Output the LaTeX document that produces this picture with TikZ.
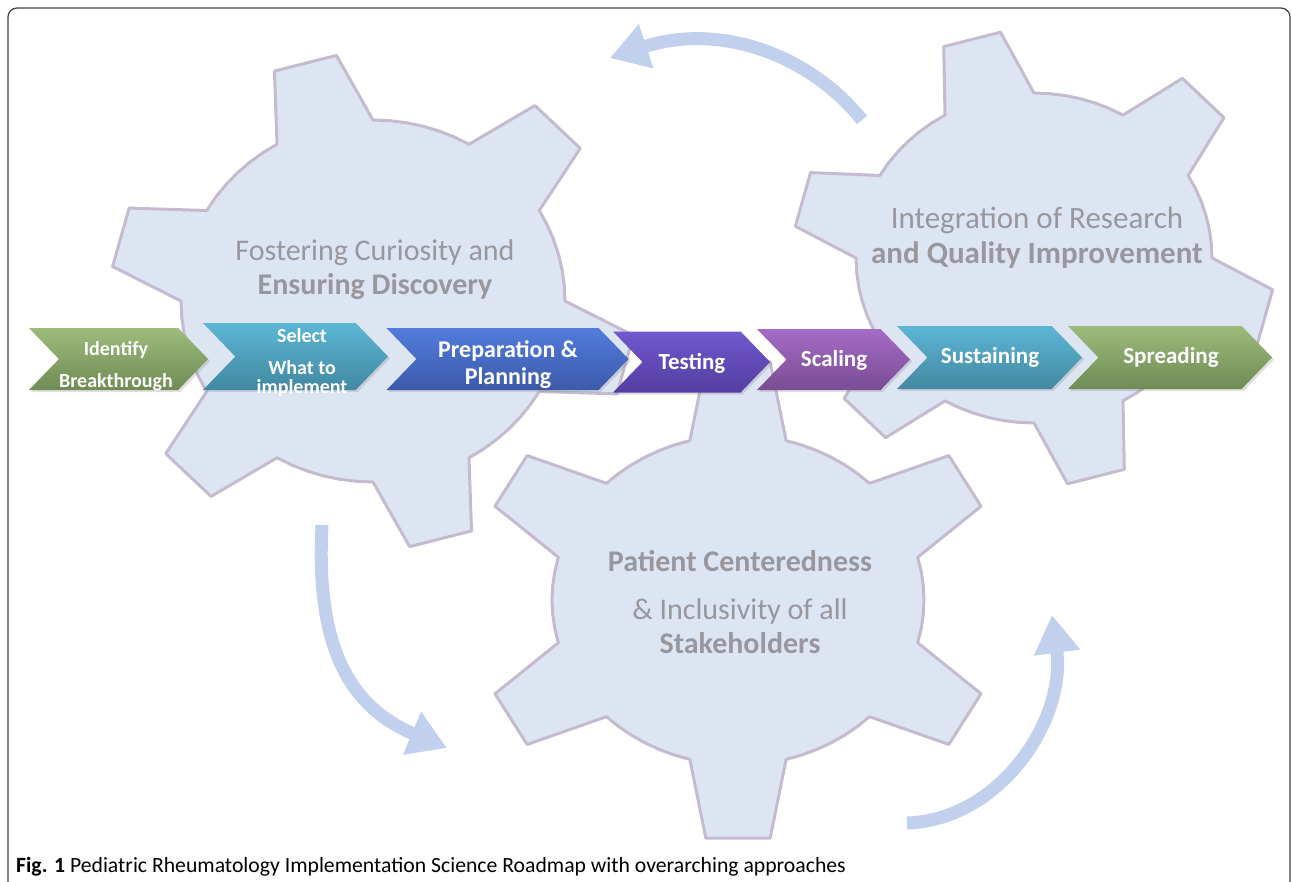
\documentclass[tikz,border=0pt]{standalone}
\usepackage{fontspec}
\setmainfont{Carlito}
\usepackage{tikz}
\usetikzlibrary{positioning}
\usetikzlibrary{shapes.symbols}
\usetikzlibrary{arrows.meta}
\usetikzlibrary{shadows}

\definecolor{gearfill}{RGB}{221,229,243}
\definecolor{gearline}{RGB}{196,188,206}
\definecolor{geargrey}{RGB}{153,151,158}
\definecolor{cyclecol}{RGB}{193,208,236}
\definecolor{greenT}{RGB}{157,187,123}
\definecolor{greenB}{RGB}{110,140,84}
\definecolor{cyanT}{RGB}{92,182,214}
\definecolor{cyanB}{RGB}{66,136,160}
\definecolor{blueT}{RGB}{82,124,220}
\definecolor{blueB}{RGB}{60,90,170}
\definecolor{purpleT}{RGB}{112,88,206}
\definecolor{purpleB}{RGB}{84,62,160}
\definecolor{violetT}{RGB}{164,108,198}
\definecolor{violetB}{RGB}{122,76,148}

\begin{document}
\begin{tikzpicture}[x=1pt, y=-1pt,
        gear/.style={draw=gearline, fill=gearfill, line width=3pt, line join=round},
        geartext/.style={text=geargrey, align=center, font=\fontsize{30}{34}\selectfont},
        chevron/.style={signal, signal from=west, signal to=east, signal pointer angle=92,
            inner sep=0pt, draw=none, drop shadow={opacity=0.25, shadow xshift=2pt, shadow yshift=-2pt}},
        steplabel/.style={text=white, align=center, font=\bfseries\fontsize{23}{27}\selectfont},
        cyclearrow/.style={draw=cyclecol, line width=13pt, -{Triangle[length=38pt, width=44pt]}}
    ]
    \useasboundingbox (0,0) rectangle (1292,881);
    \clip (0,0) rectangle (1292,881);

    % Frame
    \draw[line width=1.2pt, draw=black!75, rounded corners=9pt] (8,8) rectangle (1290,940);

    % Gear: Fostering Curiosity
    \begin{scope}[shift={(373,301)}]
        \draw[gear] (0:192 and 181)
            \foreach \a in {15,75,...,315}{
                -- (\a-15:192 and 181) -- (\a-7:263 and 248) -- (\a+7:263 and 248) -- (\a+15:192 and 181)
                \foreach \k in {20,25,...,40}{ -- (\a+\k:192 and 181) }
            } -- cycle;
    \end{scope}

    % Gear: Integration of Research
    \begin{scope}[shift={(1034,258)}]
        \draw[gear] (0:178 and 165)
            \foreach \a in {15,75,...,315}{
                -- (\a-15:178 and 165) -- (\a-7:241 and 228) -- (\a+7:241 and 228) -- (\a+15:178 and 165)
                \foreach \k in {20,25,...,40}{ -- (\a+\k:178 and 165) }
            } -- cycle;
    \end{scope}

    % Gear: Patient Centeredness
    \begin{scope}[shift={(738,600)}]
        \draw[gear] (15:186 and 165)
            \foreach \a in {30,90,...,330}{
                -- (\a-15:186 and 165) -- (\a-7:264 and 240) -- (\a+7:264 and 240) -- (\a+15:186 and 165)
                \foreach \k in {20,25,...,40}{ -- (\a+\k:186 and 165) }
            } -- cycle;
    \end{scope}

    % Gear labels
    \node[geartext] at (375,270) (fostering) {Fostering Curiosity and\\\textbf{Ensuring Discovery}};
    \node[geartext, font=\fontsize{31}{35}\selectfont] at (1037,238) (integration) {Integration of Research\\\textbf{and Quality Improvement}};
    \node[geartext] at (740,602) (patient) {\textbf{Patient Centeredness}\\[14pt]\& Inclusivity of all\\\textbf{Stakeholders}};

    % Cycle arrows
    \coordinate (cycleAstart) at (862,120);
    \coordinate (cycleAend) at (610,58);
    \coordinate (cycleBstart) at (322,525);
    \coordinate (cycleBend) at (447,748);
    \coordinate (cycleCstart) at (907,823);
    \coordinate (cycleCend) at (1052,615);
    \draw[cyclearrow] (cycleAstart) .. controls (810,55) and (720,22) .. (cycleAend);
    \draw[cyclearrow] (cycleBstart) .. controls (316,640) and (345,705) .. (cycleBend);
    \draw[cyclearrow] (cycleCstart) .. controls (1000,820) and (1066,720) .. (cycleCend);

    % Roadmap steps
    \node[chevron, minimum width=179pt, minimum height=62pt, top color=greenT, bottom color=greenB] at (118.5,359) (identify) {};
    \node[chevron, minimum width=185pt, minimum height=67pt, top color=cyanT, bottom color=cyanB] at (295.5,356.5) (select) {};
    \node[chevron, minimum width=242pt, minimum height=62pt, top color=blueT, bottom color=blueB] at (507.5,359) (preparation) {};
    \node[chevron, minimum width=157pt, minimum height=61pt, top color=purpleT, bottom color=purpleB] at (691.5,362) (testing) {};
    \node[chevron, minimum width=153pt, minimum height=61pt, top color=violetT, bottom color=violetB] at (833.5,359.5) (scaling) {};
    \node[chevron, minimum width=185pt, minimum height=63pt, top color=cyanT, bottom color=cyanB] at (989.5,357.5) (sustaining) {};
    \node[chevron, minimum width=204pt, minimum height=63pt, top color=greenT, bottom color=greenB] at (1170,357.5) (spreading) {};

    % Step labels
    \node[steplabel, font=\bfseries\fontsize{20}{32}\selectfont] at (116,366) (identifytext) {Identify\\Breakthrough};
    \node[steplabel, font=\bfseries\fontsize{20}{19}\selectfont] at (302,363) (selecttext) {Select\\[13pt]What to\\implement};
    \node[steplabel, font=\bfseries\fontsize{24}{27}\selectfont] at (508,365) (preparationtext) {Preparation \&\\Planning};
    \node[steplabel] at (692,363) (testingtext) {Testing};
    \node[steplabel] at (834,360) (scalingtext) {Scaling};
    \node[steplabel] at (990,357) (sustainingtext) {Sustaining};
    \node[steplabel] at (1171,357) (spreadingtext) {Spreading};

    % Caption
    \node[anchor=base west, inner sep=0pt, font=\fontsize{21.7}{26}\selectfont] at (16,872) (caption)
        {\textbf{Fig. 1} Pediatric Rheumatology Implementation Science Roadmap with overarching approaches};

\end{tikzpicture}
\end{document}
